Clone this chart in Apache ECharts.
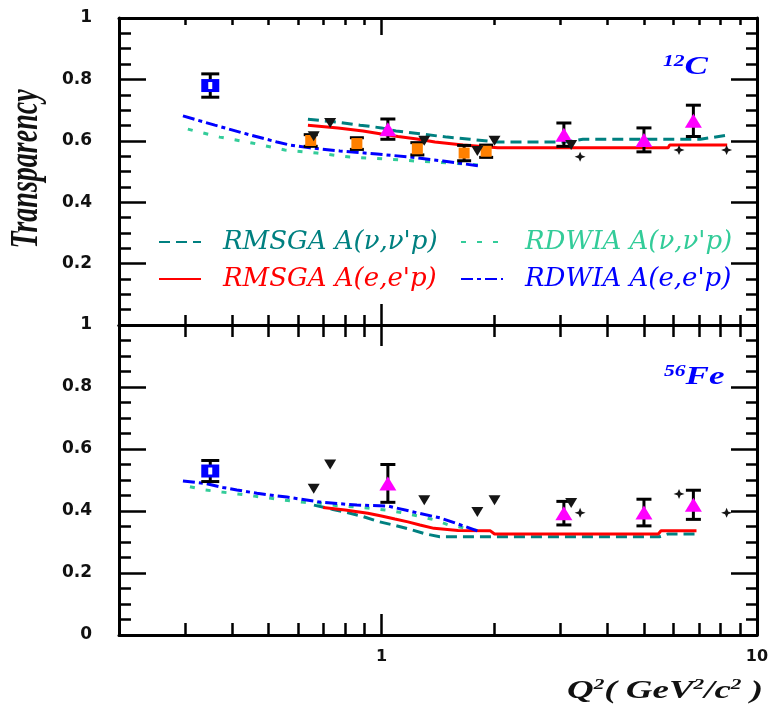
<!DOCTYPE html>
<html><head><meta charset="utf-8">
<script src="https://cdn.jsdelivr.net/npm/echarts@6/dist/echarts.min.js"></script>
<style>html,body{margin:0;padding:0;background:#fff}#c{width:774px;height:710px}</style>
</head><body><div id="c"></div>
<script>
// ---- axis ticks / labels ----
const xTickMinor = [0.3,0.4,0.5,0.6,0.7,0.8,0.9,2,3,4,5,6,7,8,9];
const xTickMajor = [1];
const xTickLabels = [1, 10];
const yTickLabelsC = [0.2,0.4,0.6,0.8,1];
const yTickLabelsFe = [0,0.2,0.4,0.6,0.8,1];

// ---- 12C curves ----
const cRmsgaNuQ2 = [0.637, 0.761, 0.877, 1.0, 1.093, 1.28, 1.495, 1.72, 2.03, 3.08, 3.44, 7.06, 8.33];
const cRmsgaNuT  = [0.670, 0.661, 0.651, 0.642, 0.632, 0.622, 0.612, 0.605, 0.596, 0.596, 0.605, 0.605, 0.618];
const cRmsgaEQ2  = [0.637, 0.766, 0.893, 1.0, 1.107, 1.243, 1.388, 1.648, 2.04, 5.8, 5.85, 8.33];
const cRmsgaET   = [0.651, 0.642, 0.632, 0.622, 0.614, 0.606, 0.596, 0.586, 0.577, 0.577, 0.586, 0.586];
const cRdwiaNuQ2 = [0.305, 0.371, 0.452, 0.553, 0.673, 0.824, 1.01, 1.243, 1.52, 1.83];
const cRdwiaNuT  = [0.638, 0.612, 0.593, 0.570, 0.560, 0.547, 0.541, 0.534, 0.528, 0.521];
const cRdwiaEQ2  = [0.296, 0.360, 0.438, 0.527, 0.571, 0.645, 0.775, 0.973, 1.191, 1.458, 1.829];
const cRdwiaET   = [0.681, 0.651, 0.622, 0.596, 0.586, 0.577, 0.567, 0.557, 0.547, 0.534, 0.518];

// ---- 12C data ----
const cSqQ2 = [0.35];  const cSqT = [0.78];  const cSqErr = [0.038];
const cOrQ2 = [0.648, 0.86, 1.246, 1.66, 1.90];
const cOrT  = [0.601, 0.591, 0.574, 0.56, 0.566];
const cOrErr = [0.019, 0.019, 0.02, 0.025, 0.02];
const cTrQ2 = [1.04, 3.06, 5.0, 6.77];
const cTrT  = [0.638, 0.62, 0.603, 0.665];
const cTrErr = [0.033, 0.038, 0.039, 0.051];
const cInvQ2 = [0.66, 0.73, 1.3, 1.8, 2.0, 3.2];
const cInvT  = [0.615, 0.658, 0.60, 0.567, 0.60, 0.586];
const cStQ2 = [3.38, 6.2, 8.3];
const cStT  = [0.548, 0.57, 0.57];

// ---- 56Fe curves ----
const feRmsgaNuQ2 = [0.661, 0.743, 0.81, 0.882, 0.98, 1.073, 1.191, 1.31, 1.43, 5.5, 5.8, 6.9];
const feRmsgaNuT  = [0.419, 0.405, 0.395, 0.384, 0.366, 0.355, 0.341, 0.326, 0.317, 0.317, 0.326, 0.326];
const feRmsgaEQ2  = [0.699, 0.80, 0.92, 1.0, 1.086, 1.176, 1.266, 1.38, 1.6, 1.95, 2.0, 5.46, 5.55, 6.9];
const feRmsgaET   = [0.411, 0.403, 0.393, 0.384, 0.374, 0.365, 0.355, 0.344, 0.337, 0.336, 0.326, 0.326, 0.336, 0.336];
const feRdwiaNuQ2 = [0.309, 0.339, 0.376, 0.414, 0.458, 0.508, 0.553, 0.622, 0.686, 0.761, 0.839, 0.932, 1.03, 1.13, 1.25, 1.39, 1.51, 1.67, 1.8];
const feRdwiaNuT  = [0.478, 0.468, 0.461, 0.455, 0.448, 0.441, 0.435, 0.428, 0.425, 0.417, 0.414, 0.409, 0.403, 0.395, 0.384, 0.371, 0.355, 0.345, 0.337];
const feRdwiaEQ2  = [0.296, 0.339, 0.378, 0.412, 0.466, 0.560, 0.694, 0.86, 1.04, 1.266, 1.43, 1.6, 1.8];
const feRdwiaET   = [0.497, 0.489, 0.476, 0.468, 0.457, 0.445, 0.428, 0.419, 0.416, 0.392, 0.378, 0.358, 0.336];

// ---- 56Fe data ----
const feSqQ2 = [0.35]; const feSqT = [0.529]; const feSqErr = [0.034];
const feTrQ2 = [1.04, 3.06, 5.0, 6.77];
const feTrT  = [0.489, 0.393, 0.395, 0.42];
const feTrErr = [0.061, 0.038, 0.043, 0.047];
const feInvQ2 = [0.66, 0.73, 1.3, 1.8, 2.0, 3.2];
const feInvT  = [0.472, 0.550, 0.435, 0.397, 0.435, 0.426];
const feStQ2 = [3.38, 6.2, 8.3];
const feStT  = [0.394, 0.455, 0.394];

// ---- names / colours ----
const N1 = "RMSGA A(\u03bd,\u03bd'p)", N2 = "RDWIA A(\u03bd,\u03bd'p)", N3 = "RMSGA A(e,e'p)", N4 = "RDWIA A(e,e'p)";
const TEAL = '#008080', GREEN = '#33cc99', RED = '#ff0000', BLUE = '#0000ff', MAG = '#ff00ff', ORANGE = '#ff8000', BLK = '#000';

const zip = (xs, ys) => xs.map((x, i) => [x, ys[i]]);
const tickStyle = {color: BLK, width: 2.5};

function xAxes(grid, pos, minorLen, majorLen, labels) {
  return [
    {type:'log', logBase:10, gridIndex:grid, position:pos, min:0.2, max:10,
     axisLine:{show:true, onZero:false, lineStyle:{color:BLK, width:3}},
     axisTick:{show:true, inside:true, length:minorLen, customValues:xTickMinor, lineStyle:tickStyle},
     axisLabel: labels ? {show:true, customValues:xTickLabels, margin:14, color:'#111',
        fontFamily:'DejaVu Sans', fontWeight:'bold', fontSize:16} : {show:false},
     splitLine:{show:false}, minorTick:{show:false}, minorSplitLine:{show:false}},
    {type:'log', logBase:10, gridIndex:grid, position:pos, min:0.2, max:10,
     axisLine:{show:false, onZero:false},
     axisTick:{show:true, inside:true, length:majorLen, customValues:xTickMajor, lineStyle:tickStyle},
     axisLabel:{show:false}, splitLine:{show:false}}
  ];
}
function yAxis(grid, pos, majorLen, minorLen, labels) {
  return {type:'value', gridIndex:grid, position:pos, min:0, max:1, interval:0.2,
    axisLine:{show:true, onZero:false, lineStyle:{color:BLK, width:3}},
    axisTick:{show:true, inside:true, length:majorLen, lineStyle:tickStyle},
    minorTick:{show:true, splitNumber:4, length:minorLen, lineStyle:tickStyle},
    axisLabel: labels ? {show:true, customValues:labels, margin:27, color:'#111',
        fontFamily:'DejaVu Sans', fontWeight:'bold', fontSize:17} : {show:false},
    splitLine:{show:false}};
}

function line(name, xs, ys, color, type, g) {
  return {type:'line', name, xAxisIndex:g*4, yAxisIndex:g*2, data:zip(xs, ys),
    symbol:'none', showSymbol:false, lineStyle:{color, width:3, type}, itemStyle:{color},
    z:3, silent:true, animation:false};
}
function scatter(name, xs, ys, symbol, size, color, g, rot, z) {
  return {type:'scatter', name, xAxisIndex:g*4, yAxisIndex:g*2, data:zip(xs, ys),
    symbol, symbolSize:size, symbolRotate:rot || 0, itemStyle:{color, opacity:1, borderWidth:0},
    z:z || 6, silent:true, animation:false};
}
function errBars(xs, ys, es, cap, g) {
  return {type:'custom', xAxisIndex:g*4, yAxisIndex:g*2, z:5, silent:true, animation:false,
    data: xs.map((x, i) => [x, ys[i], es[i]]), encode:{x:0, y:1},
    renderItem: (p, api) => {
      const x = api.value(0), y = api.value(1), e = api.value(2);
      const hi = api.coord([x, y + e]), lo = api.coord([x, y - e]);
      const h = cap / 2, st = {stroke:BLK, lineWidth:3};
      return {type:'group', children:[
        {type:'line', shape:{x1:hi[0], y1:hi[1], x2:lo[0], y2:lo[1]}, style:st},
        {type:'line', shape:{x1:hi[0]-h, y1:hi[1], x2:hi[0]+h, y2:hi[1]}, style:st},
        {type:'line', shape:{x1:lo[0]-h, y1:lo[1], x2:lo[0]+h, y2:lo[1]}, style:st}
      ]};
    }};
}

const STAR = 'path://M5,0L6.4,3.6L10,5L6.4,6.4L5,10L3.6,6.4L0,5L3.6,3.6Z';

const series = [
  // 12C
  line(N1, cRmsgaNuQ2, cRmsgaNuT, TEAL, [11,6], 0),
  line(N2, cRdwiaNuQ2, cRdwiaNuT, GREEN, [5,11], 0),
  line(N3, cRmsgaEQ2, cRmsgaET, RED, 'solid', 0),
  line(N4, cRdwiaEQ2, cRdwiaET, BLUE, [12,4,4,4], 0),
  errBars(cSqQ2, cSqT, cSqErr, 18, 0),
  errBars(cOrQ2, cOrT, cOrErr, 14, 0),
  errBars(cTrQ2, cTrT, cTrErr, 15, 0),
  scatter('C square', cSqQ2, cSqT, 'rect', [18,13], BLUE, 0),
  scatter('C square hole', cSqQ2, cSqT, 'rect', [4,7], '#fff', 0, 0, 7),
  scatter('C orange', cOrQ2, cOrT, 'rect', [11,11], ORANGE, 0),
  scatter('C triangle', cTrQ2, cTrT, 'triangle', [17,14], MAG, 0),
  scatter('C inverted', cInvQ2, cInvT, 'triangle', [12,10], '#151515', 0, 180),
  scatter('C star', cStQ2, cStT, STAR, [11,10], '#151515', 0),
  // 56Fe
  line(N1, feRmsgaNuQ2, feRmsgaNuT, TEAL, [11,6], 1),
  line(N2, feRdwiaNuQ2, feRdwiaNuT, GREEN, [5,11], 1),
  line(N3, feRmsgaEQ2, feRmsgaET, RED, 'solid', 1),
  line(N4, feRdwiaEQ2, feRdwiaET, BLUE, [12,4,4,4], 1),
  errBars(feSqQ2, feSqT, feSqErr, 18, 1),
  errBars(feTrQ2, feTrT, feTrErr, 15, 1),
  scatter('Fe square', feSqQ2, feSqT, 'rect', [18,13], BLUE, 1),
  scatter('Fe square hole', feSqQ2, feSqT, 'rect', [4,7], '#fff', 1, 0, 7),
  scatter('Fe triangle', feTrQ2, feTrT, 'triangle', [17,14], MAG, 1),
  scatter('Fe inverted', feInvQ2, feInvT, 'triangle', [12,10], '#151515', 1, 180),
  scatter('Fe star', feStQ2, feStT, STAR, [11,10], '#151515', 1)
];

function legendItem(name, left, top, color) {
  return {left, top, padding:0, itemWidth:42, itemHeight:14, data:[name], selectedMode:false,
    itemStyle:{opacity:0},
    textStyle:{color, fontFamily:'DejaVu Serif', fontStyle:'italic', fontSize:26, padding:[0,0,0,17]}};
}

const serif = '"Liberation Serif", "Times New Roman", serif';
const option = {
  backgroundColor:'#fff',
  animation:false,
  grid:[
    {left:119, right:17, top:18, height:307, outerBoundsMode:'none'},
    {left:119, right:17, top:325, height:310, outerBoundsMode:'none'}
  ],
  xAxis:[
    ...xAxes(0, 'bottom', 10, 21, false), ...xAxes(0, 'top', 7, 17, false),
    ...xAxes(1, 'bottom', 12, 21, true), ...xAxes(1, 'top', 12, 21, false)
  ],
  yAxis:[
    yAxis(0, 'left', 27, 12, yTickLabelsC), yAxis(0, 'right', 26, 11, null),
    yAxis(1, 'left', 27, 12, yTickLabelsFe), yAxis(1, 'right', 26, 11, null)
  ],
  legend:[
    legendItem(N1, 158, 229, TEAL), legendItem(N2, 460, 229, GREEN),
    legendItem(N3, 158, 266, RED), legendItem(N4, 460, 266, BLUE)
  ],
  graphic:[
    {type:'text', x:27, y:169, rotation:Math.PI/2, scaleY:1.4, silent:true,
     style:{text:'Transparency', font:'bold italic 28px ' + serif, fill:'#111', align:'center', verticalAlign:'middle'}},
    {type:'text', x:567, y:691, scaleX:1.42, silent:true,
     style:{text:'{m|Q}{s|2}{m|( GeV}{s|2}{m|/c}{s|2}{m| )}', verticalAlign:'middle', align:'left',
       rich:{m:{font:'bold italic 26px ' + serif, fill:'#111'}, s:{font:'bold italic 15px ' + serif, fill:'#111', verticalAlign:'top'}}}},
    {type:'text', x:663, y:67, scaleX:1.35, silent:true,
     style:{text:'{s|12}{m|C}', verticalAlign:'middle', align:'left',
       rich:{m:{font:'bold italic 26px ' + serif, fill:BLUE}, s:{font:'bold italic 16px ' + serif, fill:BLUE, verticalAlign:'top'}}}},
    {type:'text', x:664, y:377, scaleX:1.35, silent:true,
     style:{text:'{s|56}{m|Fe}', verticalAlign:'middle', align:'left',
       rich:{m:{font:'bold italic 26px ' + serif, fill:BLUE}, s:{font:'bold italic 16px ' + serif, fill:BLUE, verticalAlign:'top'}}}}
  ],
  series
};
const chart = echarts.init(document.getElementById('c'), null, {width:774, height:710});
chart.setOption(option);
</script>
</body></html>
